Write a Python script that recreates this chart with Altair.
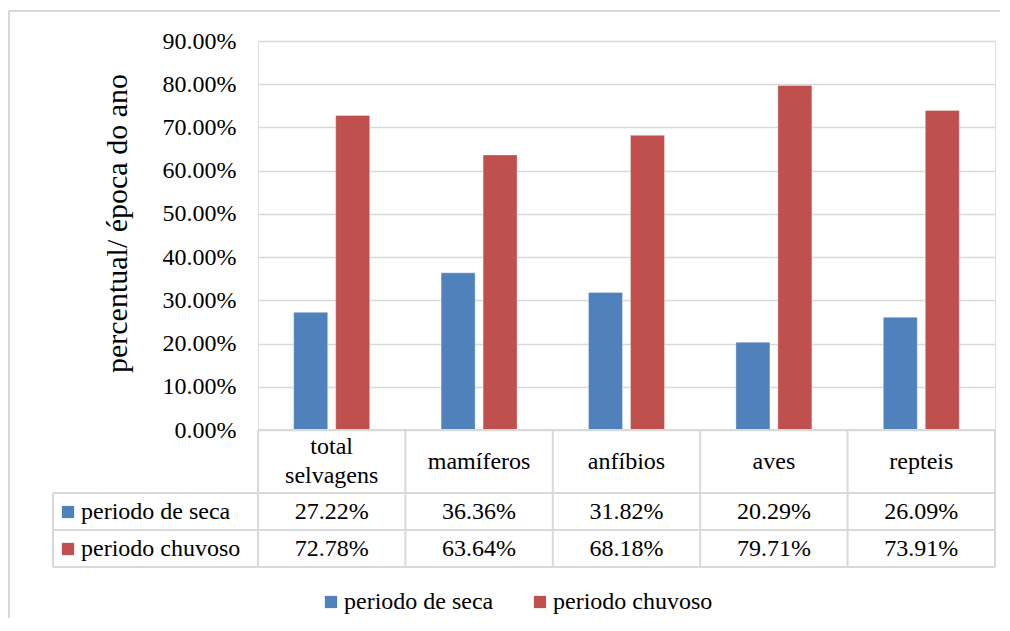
import altair as alt
import pandas as pd

categories = ["total selvagens", "mamíferos", "anfíbios", "aves", "repteis"]
cat_labels = ["total\nselvagens", "mamíferos", "anfíbios", "aves", "repteis"]
series = ["periodo de seca", "periodo chuvoso"]
seca = [0.2722, 0.3636, 0.3182, 0.2029, 0.2609]
chuvoso = [0.7278, 0.6364, 0.6818, 0.7971, 0.7391]
colors = ["#4f81bd", "#c0504d"]
y_ticks = [0.0, 0.1, 0.2, 0.3, 0.4, 0.5, 0.6, 0.7, 0.8, 0.9]

rows = []
for i, c in enumerate(categories):
    rows.append({"cat": c, "label": cat_labels[i], "serie": series[0], "v": seca[i]})
    rows.append({"cat": c, "label": cat_labels[i], "serie": series[1], "v": chuvoso[i]})
df = pd.DataFrame(rows)
cats_df = pd.DataFrame({"cat": categories, "label": cat_labels,
                        "multi": ["\n" in l for l in cat_labels]})

FONT = "Liberation Serif"
GRID = "#d9d9d9"
W, H = 737, 389

xs = alt.X("cat:N", sort=categories, axis=None,
           scale=alt.Scale(paddingInner=0, paddingOuter=0))

bars = alt.Chart(df).mark_bar(stroke="#ffffff", strokeOpacity=0.35, strokeWidth=1).encode(
    x=xs,
    xOffset=alt.XOffset("serie:N", sort=series,
                        scale=alt.Scale(paddingInner=0.19, paddingOuter=0.85)),
    y=alt.Y("v:Q", scale=alt.Scale(domain=[0, 0.9]),
            axis=alt.Axis(values=y_ticks, format=".2%", grid=True, gridColor=GRID,
                          gridWidth=1.5, domain=False, ticks=False,
                          labelFont=FONT, labelFontSize=24, labelColor="#000000",
                          labelPadding=22,
                          title="percentual/ época do ano", titleFont=FONT,
                          titleFontSize=30, titleFontWeight="normal", titleColor="#000000",
                          titleX=-141, titleY=182, titleAngle=270,
                          titleAlign="center", titleBaseline="middle")),
    color=alt.Color("serie:N", sort=series,
                    scale=alt.Scale(domain=series, range=colors),
                    legend=alt.Legend(title=None, orient="none", direction="horizontal",
                                      legendX=61, legendY=549, symbolType="square",
                                      symbolSize=150, symbolStrokeWidth=0,
                                      labelFont=FONT, labelFontSize=24,
                                      labelColor="#000000", labelOffset=1,
                                      columnPadding=34, padding=0)),
)

# table horizontal lines
hlines = [
    alt.Chart(cats_df).mark_rule(color=GRID, strokeWidth=2).encode(
        x=alt.value(x0), x2=alt.value(W), y=alt.value(yv))
    for x0, yv in [(0, H), (-205, 452), (-205, 489), (-205, 526)]
]
# table vertical lines
vlines = alt.Chart(cats_df).mark_rule(color=GRID, strokeWidth=2).encode(
    x=alt.X("cat:N", sort=categories, bandPosition=0),
    y=alt.value(H), y2=alt.value(526))
vright = alt.Chart(cats_df).mark_rule(color=GRID, strokeWidth=2).encode(
    x=alt.value(W), y=alt.value(H), y2=alt.value(526))
vleft = alt.Chart(cats_df).mark_rule(color=GRID, strokeWidth=2).encode(
    x=alt.value(-205), y=alt.value(452), y2=alt.value(526))

head_single = alt.Chart(cats_df).transform_filter("!datum.multi").mark_text(
    font=FONT, fontSize=24, color="#000000", baseline="middle").encode(
    x=alt.X("cat:N", sort=categories, bandPosition=0.5),
    y=alt.value(421), text="label:N")
head_multi = alt.Chart(cats_df).transform_filter("datum.multi").mark_text(
    font=FONT, fontSize=24, color="#000000", lineBreak="\n", baseline="middle",
    lineHeight=29).encode(
    x=alt.X("cat:N", sort=categories, bandPosition=0.5),
    y=alt.value(406), text="label:N")

vals = []
for s, yv in [(series[0], 471), (series[1], 508)]:
    vals.append(alt.Chart(df).transform_filter(alt.datum.serie == s).mark_text(
        font=FONT, fontSize=24, color="#000000", baseline="middle").encode(
        x=alt.X("cat:N", sort=categories, bandPosition=0.5),
        y=alt.value(yv), text=alt.Text("v:Q", format=".2%")))

rowlab = []
for s, col, yv in [(series[0], colors[0], 471), (series[1], colors[1], 508)]:
    one = pd.DataFrame({"serie": [s]})
    rowlab.append(alt.Chart(one).mark_square(size=150, opacity=1).encode(
        x=alt.value(-190), y=alt.value(yv), color=alt.value(col)))
    rowlab.append(alt.Chart(one).mark_text(font=FONT, fontSize=24, color="#000000",
                                           align="left", baseline="middle").encode(
        x=alt.value(-177), y=alt.value(yv), text="serie:N"))

frame = alt.Chart(cats_df).mark_rule(color=GRID, strokeWidth=1.5).encode(
    x=alt.value(-249), y=alt.value(-30), y2=alt.value(600))
frame_top = alt.Chart(cats_df).mark_rule(color=GRID, strokeWidth=1.5).encode(
    x=alt.value(-249), x2=alt.value(760), y=alt.value(-30))

chart = alt.layer(frame, frame_top, bars, *hlines, vlines, vright, vleft,
                  head_single, head_multi, *vals, *rowlab).properties(
    width=W, height=H,
    padding={"left": 250, "top": 33, "right": 5, "bottom": 188},
    autosize=alt.AutoSizeParams(type="none"),
).configure_view(stroke=None).configure(background="#ffffff")

chart.save("out.html", embed_options={"renderer": "svg", "actions": False})
